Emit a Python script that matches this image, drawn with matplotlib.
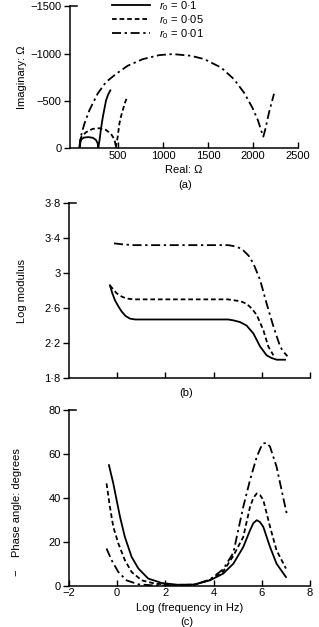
import matplotlib
matplotlib.use("Agg")
import matplotlib.pyplot as plt

plt.rcParams['font.family'] = ['Liberation Sans', 'DejaVu Sans']
plt.rcParams['font.size'] = 8
plt.rcParams['mathtext.fontset'] = 'custom'
plt.rcParams['mathtext.rm'] = 'Liberation Sans'
plt.rcParams['mathtext.it'] = 'Liberation Sans:italic'

# (a) impedance plane: real vs -imaginary (ohm)
a_solid_x = [78, 80, 92, 120, 170, 220, 255, 274, 281, 294, 312, 331, 350, 367, 390, 415]
a_solid_y = [0, -50, -90, -110, -115, -108, -85, -50, 0, -77, -210, -325, -420, -503, -565, -610]
a_dash_x = [72, 78, 89, 144, 218, 292, 366, 422, 458, 470, 477, 484, 496, 515, 532, 552, 575, 600]
a_dash_y = [0, -60, -113, -166, -202, -209, -191, -149, -95, -50, 0, -50, -113, -255, -330, -397,
            -470, -538]
a_dd_x = [72, 78, 100, 126, 181, 274, 366, 477, 607, 774, 959, 1107, 1310, 1458, 1647, 1790,
          1901, 1994, 2056, 2104, 2115, 2134, 2179, 2234]
a_dd_y = [0, -78, -170, -255, -397, -575, -697, -783, -870, -940, -983, -994, -976, -941, -851,
          -727, -585, -426, -291, -149, -120, -185, -378, -574]

# (b) log modulus vs log frequency
b_solid_f = [-0.30, -0.20, -0.09, 0.05, 0.19, 0.35, 0.53, 0.75, 0.95, 2, 3, 4, 4.6, 4.82, 5.1,
             5.37, 5.65, 5.93, 6.20, 6.40, 6.62, 6.96]
b_solid_v = [2.86, 2.77, 2.69, 2.62, 2.56, 2.51, 2.48, 2.47, 2.47, 2.47, 2.47, 2.47, 2.47, 2.46,
             2.44, 2.40, 2.31, 2.16, 2.06, 2.03, 2.01, 2.01]
b_dash_f = [-0.30, -0.15, -0.02, 0.2, 0.39, 0.67, 2, 3, 4, 4.6, 4.82, 5.1, 5.37, 5.6, 5.79, 5.95,
            6.06, 6.27, 6.48]
b_dash_v = [2.86, 2.81, 2.77, 2.73, 2.71, 2.70, 2.70, 2.70, 2.70, 2.70, 2.69, 2.68, 2.65, 2.59,
            2.52, 2.42, 2.35, 2.16, 2.06]
b_dd_f = [-0.13, 0.2, 0.67, 2, 3, 4, 4.6, 4.82, 5.05, 5.23, 5.45, 5.65, 5.93, 6.20, 6.48, 6.76,
          6.9, 7.06]
b_dd_v = [3.34, 3.33, 3.32, 3.32, 3.32, 3.32, 3.32, 3.31, 3.29, 3.26, 3.20, 3.11, 2.92, 2.65,
          2.39, 2.16, 2.10, 2.05]

# (c) phase angle vs log frequency
c_solid_f = [-0.34, -0.16, -0.02, 0.12, 0.32, 0.60, 0.88, 1.29, 1.85, 2.5, 3.2, 3.85, 4.40, 4.82,
             5.23, 5.51, 5.65, 5.79, 5.92, 6.06, 6.34, 6.61, 7.00]
c_solid_v = [54.9, 46.6, 38.9, 31.3, 22.2, 13.1, 7.8, 3.2, 1.2, 0.4, 0.5, 2.4, 5.5, 10.0,
             17.6, 25.2, 28.5, 29.8, 29.0, 26.8, 17.6, 10.0, 3.9]
c_dash_f = [-0.44, -0.30, -0.16, 0.05, 0.32, 0.60, 1.02, 1.57, 2.3, 3.2, 3.85, 4.40, 4.82, 5.23,
            5.51, 5.65, 5.79, 5.93, 6.06, 6.34, 6.61, 7.00]
c_dash_v = [46.6, 35.9, 26.8, 19.2, 11.6, 6.2, 2.4, 0.9, 0.3, 0.4, 2.6, 6.5, 13.6, 22.2,
            35.9, 40.0, 42.0, 41.2, 39.0, 26.8, 16.1, 7.8]
c_dd_f = [-0.44, -0.23, 0.05, 0.39, 0.88, 1.5, 2.3, 3.2, 3.85, 4.40, 4.82, 4.96, 5.23, 5.51, 5.79,
          5.95, 6.06, 6.2, 6.34, 6.61, 6.82, 7.03]
c_dd_v = [16.9, 11.6, 6.2, 2.4, 0.6, 0.1, 0.1, 0.4, 2.8, 7.5, 15.0, 22.2, 35.9, 48.1, 58.7,
          62.8, 64.8, 65.0, 63.3, 54.2, 43.5, 32.9]

labels = [r'$r_0$ = 0·1', r'$r_0$ = 0·05', r'$r_0$ = 0·01']
styles = ['-', (0, (2.6, 1.6)), (0, (5, 2, 1.3, 2))]
lw = 1.3

a_xticks = [500, 1000, 1500, 2000, 2500]
a_yticks = [0, -500, -1000, -1500]
b_yticks = [1.8, 2.2, 2.6, 3.0, 3.4, 3.8]
b_ylabels = ['1·8', '2·2', '2·6', '3', '3·4', '3·8']
f_ticks = [-2, 0, 2, 4, 6, 8]
c_yticks = [0, 20, 40, 60, 80]

fig = plt.figure(figsize=(3.19, 6.27), dpi=100)
ax_a = fig.add_axes([0.219, 0.764, 0.715, 0.226])
ax_b = fig.add_axes([0.216, 0.397, 0.756, 0.279])
ax_c = fig.add_axes([0.216, 0.066, 0.756, 0.280])

for ax in (ax_a, ax_b, ax_c):
    for s in ('top', 'right'):
        ax.spines[s].set_visible(False)
    ax.spines['left'].set_linewidth(1.1)
    ax.spines['bottom'].set_linewidth(1.1)
    ax.tick_params(axis='x', direction='in', length=4, width=1.0, pad=2)
    ax.tick_params(axis='y', direction='out', length=4, width=1.0, pad=2)
    # small hook at the top of the y axis
    ax.plot([0, 0.03], [1, 1], transform=ax.transAxes, color='k', lw=1.1, clip_on=False)

# (a)
ax_a.plot(a_solid_x, a_solid_y, color='k', lw=lw, ls=styles[0], label=labels[0])
ax_a.plot(a_dash_x, a_dash_y, color='k', lw=lw, ls=styles[1], label=labels[1])
ax_a.plot(a_dd_x, a_dd_y, color='k', lw=lw, ls=styles[2], label=labels[2])
ax_a.set_xlim(-35, 2500)
ax_a.set_ylim(0, -1500)
ax_a.set_xticks(a_xticks)
ax_a.set_yticks(a_yticks)
ax_a.set_yticklabels(['0', '−500', '−1000', '−1500'])
ax_a.set_xlabel('Real: Ω', labelpad=3)
ax_a.set_ylabel('Imaginary: Ω')
ax_a.yaxis.set_label_coords(-0.19, 0.5)
ax_a.legend(loc='upper left', bbox_to_anchor=(0.165, 1.08), frameon=False, borderaxespad=0,
            handlelength=3.4, handletextpad=0.8, labelspacing=0.0, fontsize=8)

# (b)
ax_b.plot(b_solid_f, b_solid_v, color='k', lw=lw, ls=styles[0])
ax_b.plot(b_dash_f, b_dash_v, color='k', lw=lw, ls=styles[1])
ax_b.plot(b_dd_f, b_dd_v, color='k', lw=lw, ls=styles[2])
ax_b.set_xlim(-2, 8)
ax_b.set_ylim(1.8, 3.8)
ax_b.set_xticks(f_ticks[1:])
ax_b.set_xticklabels([])
ax_b.set_yticks(b_yticks)
ax_b.set_yticklabels(b_ylabels)
ax_b.set_ylabel('Log modulus')
ax_b.yaxis.set_label_coords(-0.174, 0.5)

# (c)
ax_c.plot(c_solid_f, c_solid_v, color='k', lw=lw, ls=styles[0])
ax_c.plot(c_dash_f, c_dash_v, color='k', lw=lw, ls=styles[1])
ax_c.plot(c_dd_f, c_dd_v, color='k', lw=lw, ls=styles[2])
ax_c.set_xlim(-2, 8)
ax_c.set_ylim(0, 80)
ax_c.set_xticks(f_ticks)
ax_c.set_xticklabels(['−2', '0', '2', '4', '6', '8'])
ax_c.set_yticks(c_yticks)
ax_c.set_xlabel('Log (frequency in Hz)', labelpad=3)
ax_c.set_ylabel('−    Phase angle: degrees')
ax_c.yaxis.set_label_coords(-0.195, 0.42)

fig.text(0.58, 0.705, '(a)', ha='center', va='center')
fig.text(0.585, 0.373, '(b)', ha='center', va='center')
fig.text(0.585, 0.0, '(c)', ha='center', va='bottom')

fig.savefig('out.png', dpi=100)
